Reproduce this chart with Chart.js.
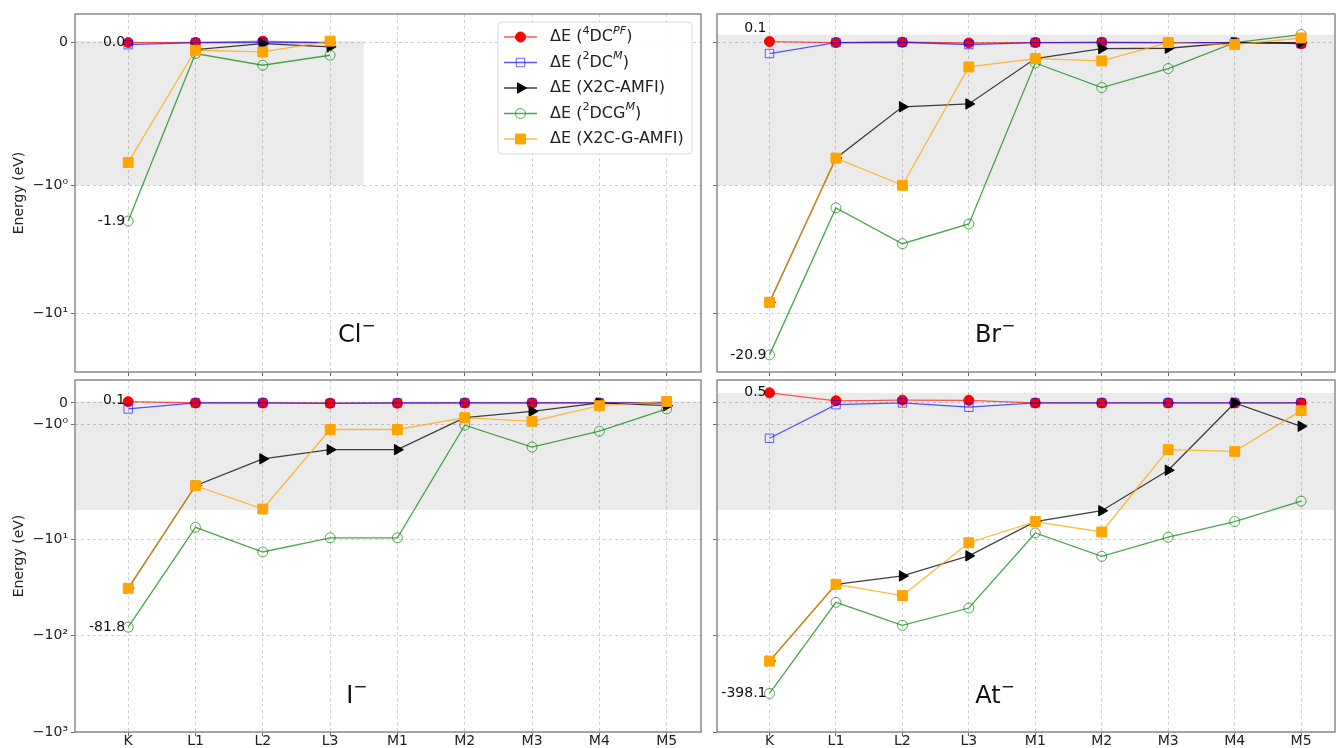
<!DOCTYPE html>
<html>
<head>
<meta charset="utf-8">
<title>Core-level energy differences</title>
<script src="https://cdn.jsdelivr.net/npm/chart.js@4.4.0/dist/chart.umd.min.js"></script>
<style>
  html, body { margin: 0; padding: 0; background: #fff; overflow: hidden; }
  #fig { position: relative; width: 1336px; height: 748px; overflow: hidden; }
  canvas { position: absolute; }
</style>
</head>
<body>
<div id="fig">
  <canvas id="cl" width="709" height="380" style="left:0;top:0"></canvas>
  <canvas id="br" width="634" height="380" style="left:709px;top:0"></canvas>
  <canvas id="io" width="709" height="376" style="left:0;top:372px"></canvas>
  <canvas id="at" width="634" height="376" style="left:709px;top:372px"></canvas>
</div>
<script>
"use strict"

//Categories and labels
const shells = ["K", "L1", "L2", "L3", "M1", "M2", "M3", "M4", "M5"];
const methodNames = ["ΔE (^{4}DC^{PF})", "ΔE (^{2}DC^{M})", "ΔE (X2C-AMFI)", "ΔE (^{2}DCG^{M})", "ΔE (X2C-G-AMFI)"];
const topTicks = [-10, -1, 0];
const bottomTicks = [-1000, -100, -10, -1, 0];

//Cl- (only K..L3)
const clDC4 = [0.0, 0.0, 0.01, 0.0];
const clDC2 = [-0.015, 0.0, 0.0, 0.0];
const clX2C = [null, -0.05, -0.007, -0.03];
const clDCG = [-1.9, -0.077, -0.159, -0.089];
const clX2CG = [-0.84, -0.054, -0.066, 0.01];

//Br-
const brDC4 = [0.007, 0.0, 0.002, -0.003, 0.0, 0.002, 0.0, 0.0, -0.008];
const brDC2 = [-0.077, 0.0, 0.002, -0.014, 0.0, 0.0, 0.0, 0.0, -0.008];
const brX2C = [-8.15, -0.81, -0.45, -0.43, -0.112, -0.042, -0.04, 0.0, 0.0];
const brDCG = [-20.9, -1.5, -2.85, -2.0, -0.143, -0.315, -0.182, 0.0, 0.056];
const brX2CG = [-8.15, -0.81, -1.0, -0.171, -0.112, -0.129, 0.0, -0.014, 0.032];

//I-
const iDC4 = [0.06, 0.0, 0.0, -0.01, -0.01, 0.0, 0.0, 0.0, 0.0];
const iDC2 = [-0.28, 0.0, 0.0, -0.02, 0.0, 0.0, 0.0, 0.0, 0.0];
const iX2C = [-32.4, -3.86, -2.61, -2.18, -2.18, -0.69, -0.39, 0.0, -0.13];
const iDCG = [-81.8, -7.55, -13.6, -9.69, -9.69, -1.04, -2.06, -1.32, -0.28];
const iX2CG = [-32.4, -3.86, -4.95, -1.24, -1.24, -0.69, -0.86, -0.13, 0.07];

//At-
const atDC4 = [0.47, 0.1, 0.13, 0.12, 0.0, 0.0, 0.0, 0.0, 0.0];
const atDC2 = [-1.65, -0.08, 0.0, -0.2, 0.0, 0.0, 0.0, 0.0, 0.0];
const atX2C = [-184, -29.4, -24.1, -14.9, -6.58, -5.08, -3.14, 0.0, -1.09];
const atDCG = [-398.1, -45.3, -78.3, -51.8, -8.63, -15.1, -9.55, -6.58, -4.58];
const atX2CG = [-184, -29.4, -38.5, -10.9, -6.58, -8.43, -2.18, -2.26, -0.36];

const FONT = "DejaVu Sans";
Chart.defaults.font.family = FONT;
Chart.defaults.color = "#222";

//Marker / line look per method
const styles = [
  { line: "rgba(255,0,0,0.65)", fill: "#ff0000", edge: "#ff0000", shape: "circle", r: 5, rot: 0 },
  { line: "rgba(0,0,255,0.65)", fill: "rgba(0,0,0,0)", edge: "rgba(0,0,255,0.6)", shape: "rect", r: 6, rot: 0 },
  { line: "rgba(0,0,0,0.75)", fill: "#000000", edge: "#000000", shape: "triangle", r: 6, rot: 90 },
  { line: "rgba(0,128,0,0.7)", fill: "rgba(0,0,0,0)", edge: "rgba(0,128,0,0.65)", shape: "circle", r: 5, rot: 0 },
  { line: "rgba(255,165,0,0.75)", fill: "#ffa500", edge: "#ffa500", shape: "rect", r: 7, rot: 0 }
];

//Symmetric log scale (linscale 1, base 10), like matplotlib's symlog
const LINSCALE = 1 / (1 - 1 / 10);
function symlog(v, lt) {
  const a = Math.abs(v);
  return a <= lt ? v * LINSCALE : Math.sign(v) * lt * (LINSCALE + Math.log10(a / lt));
}
function symexp(t, lt) {
  const a = Math.abs(t);
  return a <= lt * LINSCALE ? t / LINSCALE : Math.sign(t) * lt * Math.pow(10, a / lt - LINSCALE);
}

class SymlogScale extends Chart.Scale {
  static id = "symlog";
  static defaults = {};
  determineDataLimits() {
    const mm = this.getMinMax(false);
    this.min = this.options.min ?? mm.min;
    this.max = this.options.max ?? mm.max;
  }
  buildTicks() {
    return (this.options.tickValues || []).map(v => ({ value: v }));
  }
  configure() {
    super.configure();
    const lt = this.options.linthresh || 1;
    this._t0 = symlog(this.min, lt);
    this._t1 = symlog(this.max, lt);
  }
  getLabelForValue(v) { return String(v); }
  getPixelForValue(v) {
    const lt = this.options.linthresh || 1;
    return this.getPixelForDecimal((symlog(v, lt) - this._t0) / (this._t1 - this._t0));
  }
  getValueForPixel(p) {
    const lt = this.options.linthresh || 1;
    return symexp(this._t0 + this.getDecimalForPixel(p) * (this._t1 - this._t0), lt);
  }
}
Chart.register(SymlogScale);

const supDigits = { "0": "⁰", "1": "¹", "2": "²", "3": "³" };
function tickText(v) {
  if (v === 0) return "0";
  return "−10" + supDigits[String(Math.round(Math.log10(Math.abs(v))))];
}

//text with ^{...} superscripts
function drawRich(ctx, text, x, y, size, align) {
  const parts = text.split(/\^\{([^}]*)\}/);
  const fontFor = i => {
    const sup = i % 2 === 1;
    const italic = sup && /[A-Za-z]/.test(parts[i]);
    return (italic ? "italic " : "") + (sup ? size * 0.7 : size) + "px " + FONT;
  };
  let w = 0;
  parts.forEach((p, i) => { ctx.font = fontFor(i); w += ctx.measureText(p).width; });
  if (align === "center") x -= w / 2;
  ctx.textAlign = "left";
  ctx.textBaseline = "middle";
  parts.forEach((p, i) => {
    if (!p) return;
    ctx.font = fontFor(i);
    ctx.fillText(p, x, i % 2 === 1 ? y - size * 0.38 : y);
    x += ctx.measureText(p).width;
  });
}

function decorPlugin(p) {
  const all = p.series.flat().filter(v => v !== null);
  const maxLabel = Math.max(...all).toFixed(1);
  const minLabel = Math.min(...all).toFixed(1);
  return {
    id: "decor",
    beforeDatasetsDraw(chart) {
      const { ctx, chartArea, scales } = chart;
      const xs = scales.x, ys = scales.y;
      const x1 = Math.min(xs.getPixelForValue(p.series[0].length - 0.5), chartArea.right);
      const yTop = ys.getPixelForValue(Math.max(0, Math.max(...all)));
      const yBot = ys.getPixelForValue(-p.lt);
      ctx.save();
      ctx.fillStyle = "rgba(0,0,0,0.08)";
      ctx.fillRect(chartArea.left, yTop, x1 - chartArea.left, yBot - yTop);
      ctx.restore();
    },
    afterDatasetsDraw(chart) {
      const { ctx, chartArea, scales } = chart;
      const xs = scales.x, ys = scales.y;
      ctx.save();
      //annotations at K
      ctx.fillStyle = "#111";
      ctx.font = "14px " + FONT;
      ctx.textAlign = "right";
      ctx.textBaseline = "middle";
      const xk = xs.getPixelForValue(0) - 3;
      ctx.fillText(maxLabel, xk, ys.getPixelForValue(parseFloat(maxLabel)));
      ctx.fillText(minLabel, xk, ys.getPixelForValue(parseFloat(minLabel)));
      //ion label
      ctx.fillStyle = "#111";
      drawRich(ctx, p.name, chartArea.left + 0.45 * chartArea.width,
        chartArea.bottom - 0.1 * chartArea.height, 24, "center");
      //frame
      ctx.strokeStyle = "#8a8a8a";
      ctx.lineWidth = 1.5;
      ctx.strokeRect(chartArea.left, chartArea.top, chartArea.width, chartArea.height);
      ctx.restore();
    },
    afterDraw(chart) {
      if (!p.legend) return;
      const { ctx, chartArea } = chart;
      const bw = 194, bh = 132;
      const bx = chartArea.right - 9 - bw, by = chartArea.top + 8;
      ctx.save();
      ctx.fillStyle = "rgba(255,255,255,0.85)";
      ctx.strokeStyle = "#d8d8d8";
      ctx.lineWidth = 1;
      ctx.beginPath();
      ctx.roundRect(bx, by, bw, bh, 4);
      ctx.fill();
      ctx.stroke();
      methodNames.forEach((name, k) => {
        const st = styles[k];
        const yy = by + 15 + k * 25.5;
        ctx.strokeStyle = st.line;
        ctx.lineWidth = 1.3;
        ctx.beginPath();
        ctx.moveTo(bx + 6, yy);
        ctx.lineTo(bx + 39, yy);
        ctx.stroke();
        ctx.fillStyle = st.fill;
        ctx.strokeStyle = st.edge;
        ctx.lineWidth = 1;
        Chart.helpers.drawPoint(ctx, { pointStyle: st.shape, radius: st.r, rotation: st.rot, borderWidth: 1 }, bx + 22.5, yy);
        ctx.fillStyle = "#222";
        drawRich(ctx, name, bx + 52, yy, 16, "left");
      });
      ctx.restore();
    }
  };
}

function makePanel(id, p) {
  const datasets = p.series.map((vals, k) => ({
    label: methodNames[k],
    data: vals.map((v, i) => ({ x: i, y: v })),
    borderColor: styles[k].line,
    borderWidth: 1.3,
    pointStyle: styles[k].shape,
    pointRadius: styles[k].r,
    pointRotation: styles[k].rot,
    pointBackgroundColor: styles[k].fill,
    pointBorderColor: styles[k].edge,
    pointBorderWidth: 1,
    tension: 0,
    fill: false,
    spanGaps: false,
    order: 4 - k
  }));
  const grid = { color: "#c4c4c4", lineWidth: 0.8, tickColor: "#444", tickLength: 4, tickBorderDash: [], drawTicks: true };
  const config = {
    type: "line",
    data: { datasets: datasets },
    options: {
      responsive: false,
      animation: false,
      events: [],
      layout: { padding: { top: p.top ? 14 : 0, left: 0, right: 0, bottom: 0 } },
      plugins: { legend: { display: false }, tooltip: { enabled: false } },
      scales: {
        x: {
          type: "linear",
          min: -0.79,
          max: 8.51,
          afterBuildTicks: s => { s.ticks = shells.map((c, i) => ({ value: i })); },
          ticks: { display: !p.top, callback: v => shells[v], font: { size: 14 }, color: "#222", padding: -3, autoSkip: false, maxRotation: 0 },
          grid: grid,
          border: { display: false, dash: [3, 3] },
          afterFit: s => { s.height = p.top ? 8 : 16; s.paddingLeft = 0; s.paddingRight = 0; }
        },
        y: {
          type: "symlog",
          linthresh: p.lt,
          min: p.ymin,
          max: p.ymax,
          tickValues: p.ticks,
          ticks: { display: p.left, callback: v => tickText(v), font: { size: 14 }, color: "#222", padding: 3, autoSkip: false },
          title: { display: p.left, text: "Energy (eV)", font: { size: 14 }, color: "#222", padding: { top: 11, bottom: 0 } },
          grid: grid,
          border: { display: false, dash: [3, 3] },
          afterFit: s => { s.width = p.left ? 75 : 0; s.paddingTop = 0; s.paddingBottom = 0; }
        }
      }
    },
    plugins: [decorPlugin(p)]
  };
  return new Chart(document.getElementById(id), config);
}

makePanel("cl", { name: "Cl^{−}", series: [clDC4, clDC2, clX2C, clDCG, clX2CG], lt: 1, ymin: -28.4, ymax: 0.2, ticks: topTicks, top: true, left: true, legend: true });
makePanel("br", { name: "Br^{−}", series: [brDC4, brDC2, brX2C, brDCG, brX2CG], lt: 1, ymin: -28.4, ymax: 0.2, ticks: topTicks, top: true, left: false });
makePanel("io", { name: "I^{−}", series: [iDC4, iDC2, iX2C, iDCG, iX2CG], lt: 5, ymin: -1000, ymax: 1.07, ticks: bottomTicks, top: false, left: true });
makePanel("at", { name: "At^{−}", series: [atDC4, atDC2, atX2C, atDCG, atX2CG], lt: 5, ymin: -1000, ymax: 1.07, ticks: bottomTicks, top: false, left: false });
</script>
</body>
</html>
